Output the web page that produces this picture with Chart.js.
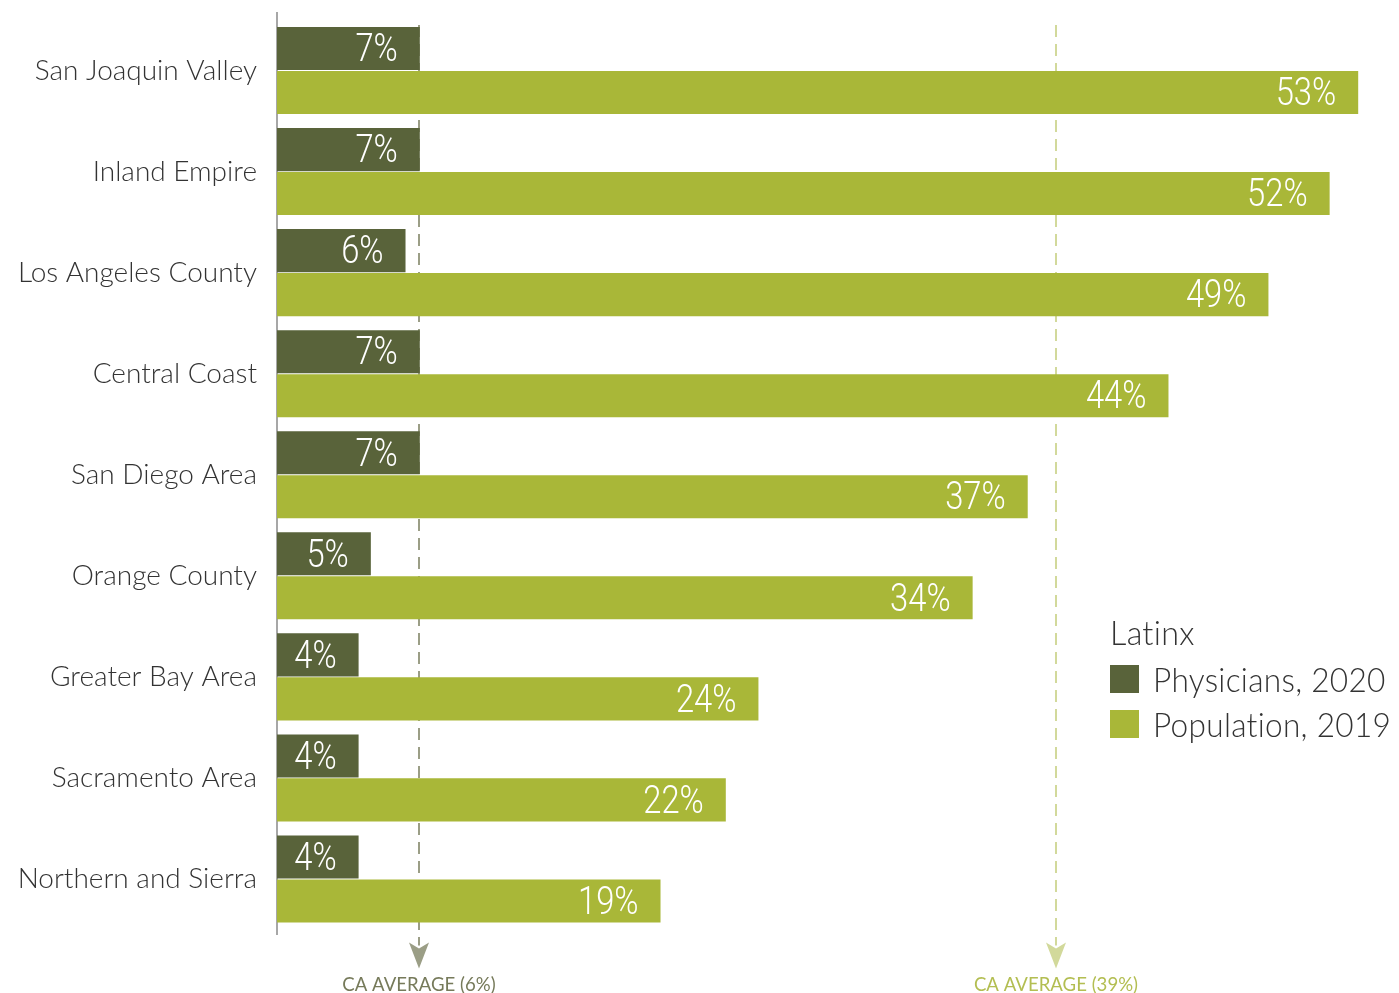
<!DOCTYPE html>
<html>
<head>
<meta charset="utf-8">
<script src="https://cdn.jsdelivr.net/npm/chart.js@4"></script>
<style>
  html, body { margin: 0; padding: 0; background: #fff; }
  #wrap { width: 1399px; height: 993px; }
</style>
</head>
<body>
<div id="wrap"><canvas id="latinxChart" width="1399" height="993"></canvas></div>
<script>
const regions = ['San Joaquin Valley', 'Inland Empire', 'Los Angeles County', 'Central Coast',
    'San Diego Area', 'Orange County', 'Greater Bay Area', 'Sacramento Area', 'Northern and Sierra'];
// shares in percent (labels show them rounded)
const physicians2020 = [7.0, 7.0, 6.3, 7.0, 7.0, 4.6, 4.0, 4.0, 4.0];
const population2019 = [53.0, 51.6, 48.6, 43.7, 36.8, 34.1, 23.6, 22.0, 18.8];
const seriesNames = ['Physicians, 2020', 'Population, 2019'];
const legendTitle = 'Latinx';
// CA averages as printed, and where the marker lines sit on the value scale
const caAverages = [6, 39];
const averageMarkerAt = [6.96, 38.2];

const darkGreen = '#59633a';
const lightGreen = '#a9b738';
const labelFont = 'Lato, "Open Sans", sans-serif';
const valueFont = 'Roboto, "Noto Sans", sans-serif';

// text squeezed horizontally to mimic the condensed face of the original
function squeezedText(ctx, text, x, y, sx) {
    ctx.save();
    ctx.translate(x, y);
    ctx.scale(sx, 1);
    ctx.fillText(text, 0, 0);
    ctx.restore();
}

// dashed CA average lines with arrow heads, drawn behind the bars
const averageLines = {
    id: 'averageLines',
    beforeDatasetsDraw(chart) {
        const ctx = chart.ctx;
        const x = chart.scales.x;
        const area = chart.chartArea;
        const lineColors = ['#9b9e86', '#d2d99b'];
        const textColors = ['#767a5a', '#b3be52'];
        averageMarkerAt.forEach((v, i) => {
            const px = Math.round(x.getPixelForValue(v));
            ctx.save();
            ctx.strokeStyle = lineColors[i];
            ctx.lineWidth = 2;
            ctx.setLineDash([12, 7]);
            ctx.beginPath();
            ctx.moveTo(px, area.top + 5);
            ctx.lineTo(px, area.bottom + 16);
            ctx.stroke();
            ctx.setLineDash([]);
            ctx.fillStyle = lineColors[i];
            ctx.beginPath();
            ctx.moveTo(px - 10, area.bottom + 13);
            ctx.lineTo(px, area.bottom + 19);
            ctx.lineTo(px + 10, area.bottom + 13);
            ctx.lineTo(px, area.bottom + 39);
            ctx.closePath();
            ctx.fill();
            ctx.fillStyle = textColors[i];
            ctx.font = '20px ' + labelFont;
            ctx.textAlign = 'center';
            ctx.textBaseline = 'alphabetic';
            squeezedText(ctx, 'CA AVERAGE (' + caAverages[i] + '%)', px, 991, 0.93);
            ctx.restore();
        });
        // axis line
        ctx.save();
        ctx.strokeStyle = '#8a8a8a';
        ctx.lineWidth = 1.5;
        ctx.beginPath();
        ctx.moveTo(area.left, 12);
        ctx.lineTo(area.left, 935);
        ctx.stroke();
        ctx.restore();
    }
};

// value labels inside the bar ends, plus the legend
const barLabels = {
    id: 'barLabels',
    afterDatasetsDraw(chart) {
        const ctx = chart.ctx;
        ctx.save();
        ctx.fillStyle = '#ffffff';
        ctx.font = '300 39px ' + valueFont;
        ctx.textAlign = 'right';
        ctx.textBaseline = 'middle';
        chart.data.datasets.forEach((ds, di) => {
            chart.getDatasetMeta(di).data.forEach((bar, i) => {
                squeezedText(ctx, Math.round(ds.data[i]) + '%', bar.x - 22, bar.y + 3, 0.84);
            });
        });
        ctx.restore();

        ctx.save();
        ctx.fillStyle = '#333333';
        ctx.font = '300 34px ' + labelFont;
        ctx.letterSpacing = '0.3px';
        ctx.textBaseline = 'alphabetic';
        ctx.textAlign = 'left';
        squeezedText(ctx, legendTitle, 1110, 645, 0.95);
        chart.data.datasets.forEach((ds, di) => {
            const y = 665 + di * 45;
            ctx.fillStyle = ds.backgroundColor;
            ctx.fillRect(1110, y, 29, 28);
            ctx.fillStyle = '#333333';
            squeezedText(ctx, ds.label, 1153, y + 27, 0.93);
        });
        ctx.restore();
    }
};

new Chart(document.getElementById('latinxChart').getContext('2d'), {
    type: 'bar',
    data: {
        labels: regions,
        datasets: [{
            label: seriesNames[0],
            data: physicians2020,
            backgroundColor: darkGreen
        }, {
            label: seriesNames[1],
            data: population2019,
            backgroundColor: lightGreen
        }]
    },
    options: {
        indexAxis: 'y',
        responsive: false,
        animation: false,
        categoryPercentage: 0.87,
        barPercentage: 0.98,
        layout: { padding: { top: 20, bottom: 63.5, left: 0, right: 0 } },
        plugins: {
            legend: { display: false },
            tooltip: { enabled: false }
        },
        scales: {
            x: {
                display: false,
                min: 0,
                max: 55
            },
            y: {
                afterFit(scale) {
                    scale.width = 277;
                    scale.paddingTop = 0;
                    scale.paddingBottom = 0;
                },
                grid: { display: false, drawTicks: false },
                border: { display: false },
                ticks: {
                    color: '#333333',
                    padding: 20,
                    font: { family: labelFont, size: 28, weight: 300 }
                }
            }
        }
    },
    plugins: [averageLines, barLabels]
});
</script>
</body>
</html>
